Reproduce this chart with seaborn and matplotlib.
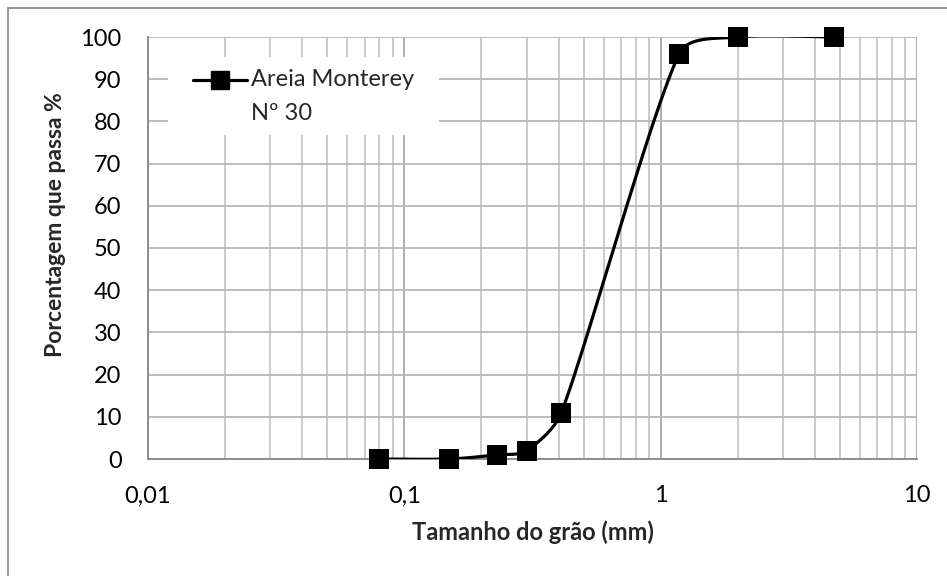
import numpy as np
import matplotlib
matplotlib.use("Agg")
import matplotlib.pyplot as plt
import seaborn as sns
from matplotlib.lines import Line2D
from matplotlib.patches import Rectangle
from matplotlib.ticker import FixedLocator, FuncFormatter, LogLocator, NullFormatter

# ---- data ----
grain_mm = [0.08, 0.15, 0.23, 0.30, 0.41, 1.18, 2.0, 4.75]
passing_pct = [0, 0, 1, 2, 11, 96, 100, 100]
series_label = ["Areia Monterey", "Nº 30"]
x_ticks = [0.01, 0.1, 1, 10]
x_tick_labels = ["0,01", "0,1", "1", "10"]
y_ticks = list(range(0, 101, 10))
x_title = "Tamanho do grão (mm)"
y_title = "Porcentagem que passa %"

sns.set_style("white")
plt.rcParams['font.family'] = ['Lato', 'DejaVu Sans']

FS = 17
W, H = 947, 576
fig = plt.figure(figsize=(W / 100, H / 100), dpi=100)
ax_l, ax_r, ax_t, ax_b = 148, 917, 37, 459
ax = fig.add_axes([ax_l / W, 1 - ax_b / H, (ax_r - ax_l) / W, (ax_b - ax_t) / H])

# Smoothed line through the points (Bezier, computed in screen-proportional space)
dec_px = (ax_r - ax_l) / 3.0
unit_px = (ax_b - ax_t) / 100.0
P = np.column_stack([np.log10(grain_mm) * dec_px, np.array(passing_pct, float) * unit_px])
n = len(P)
segs = []
t = np.linspace(0, 1, 60)


def unit(v):
    nv = np.hypot(*v)
    return v / nv if nv > 0 else v


for i in range(n - 1):
    p0 = P[i]
    p3 = P[i + 1]
    pm = P[i - 1] if i > 0 else P[i]
    pp = P[i + 2] if i + 2 < n else P[i + 1]
    d = np.hypot(*(p3 - p0))
    t0 = p3 - pm
    t1 = pp - p0
    a0 = min(np.hypot(*t0) / 6.0, d / 3.0)
    a1 = min(np.hypot(*t1) / 6.0, d / 3.0)
    c1 = p0 + unit(t0) * a0
    c2 = p3 - unit(t1) * a1
    b = ((1 - t) ** 3)[:, None] * p0 + (3 * (1 - t) ** 2 * t)[:, None] * c1 \
        + (3 * (1 - t) * t ** 2)[:, None] * c2 + (t ** 3)[:, None] * p3
    segs.append(b if i == 0 else b[1:])
curve = np.vstack(segs)
cx = 10 ** (curve[:, 0] / dec_px)
cy = curve[:, 1] / unit_px

ax.set_xscale("log")
sns.lineplot(x=cx, y=cy, sort=False, estimator=None, color="black", lw=2.3, ax=ax, zorder=4)
sns.scatterplot(x=grain_mm, y=passing_pct, marker="s", s=14 ** 2, color="black",
                edgecolor="black", linewidth=0, ax=ax, zorder=5, clip_on=False)

ax.set_xlim(0.01, 10)
ax.set_ylim(0, 100)
ax.xaxis.set_major_locator(FixedLocator(x_ticks))
ax.xaxis.set_major_formatter(FuncFormatter(lambda v, p: x_tick_labels[x_ticks.index(v)] if v in x_ticks else ""))
ax.xaxis.set_minor_locator(LogLocator(base=10, subs=np.arange(2, 10), numticks=20))
ax.xaxis.set_minor_formatter(NullFormatter())
ax.set_yticks(y_ticks)

ax.grid(True, which="major", axis="x", color="#a6a6a6", lw=1.3)
ax.grid(True, which="major", axis="y", color="#b8b8b8", lw=1.3)
ax.grid(True, which="minor", axis="x", color="#c6c6c6", lw=1.3)
ax.set_axisbelow(True)

for s in ["top", "right"]:
    ax.spines[s].set_visible(False)
for s in ["left", "bottom"]:
    ax.spines[s].set_color("#868686")
    ax.spines[s].set_linewidth(1.3)

ax.tick_params(axis="both", which="major", direction="out", length=7, width=1.3,
               color="#868686", labelsize=FS, labelcolor="black")
ax.tick_params(axis="x", which="major", pad=12)
ax.tick_params(axis="y", which="major", pad=12)
ax.tick_params(axis="x", which="minor", length=0)

ax.set_xlabel(x_title, fontsize=FS, fontweight="bold")
ax.set_ylabel(y_title, fontsize=16.5, fontweight="bold")
ax.xaxis.set_label_coords(0.5, (ax_b - 532) / (ax_b - ax_t))
ax.yaxis.set_label_coords((55 - ax_l) / (ax_r - ax_l), (ax_b - 225) / (ax_b - ax_t))
ax.xaxis.label.set_va("center")
ax.yaxis.label.set_va("center")

# legend (drawn as a boxed key in figure pixels)
def fx(px):
    return px / W


def fy(py):
    return 1 - py / H


fig.add_artist(Rectangle((fx(168), fy(135)), fx(439) - fx(168), fy(57) - fy(135),
                         transform=fig.transFigure, facecolor="white", edgecolor="none", zorder=6))
fig.add_artist(Line2D([fx(193), fx(247)], [fy(80), fy(80)], transform=fig.transFigure,
                      color="black", lw=2.3, zorder=7))
fig.add_artist(Line2D([fx(220)], [fy(80)], transform=fig.transFigure, marker="s",
                      markersize=13, color="black", lw=0, zorder=7))
fig.text(fx(251), fy(80), series_label[0], fontsize=FS, ha="left", va="center", zorder=8)
fig.text(fx(251), fy(113), series_label[1], fontsize=FS, ha="left", va="center", zorder=8)

fig.patches.append(Rectangle((8 / W, -0.1), 1.2, 1 - 8 / H + 0.1, transform=fig.transFigure,
                             fill=False, edgecolor="#8c8c8c", lw=1.3))

fig.savefig("out.png", dpi=100, facecolor="white")
